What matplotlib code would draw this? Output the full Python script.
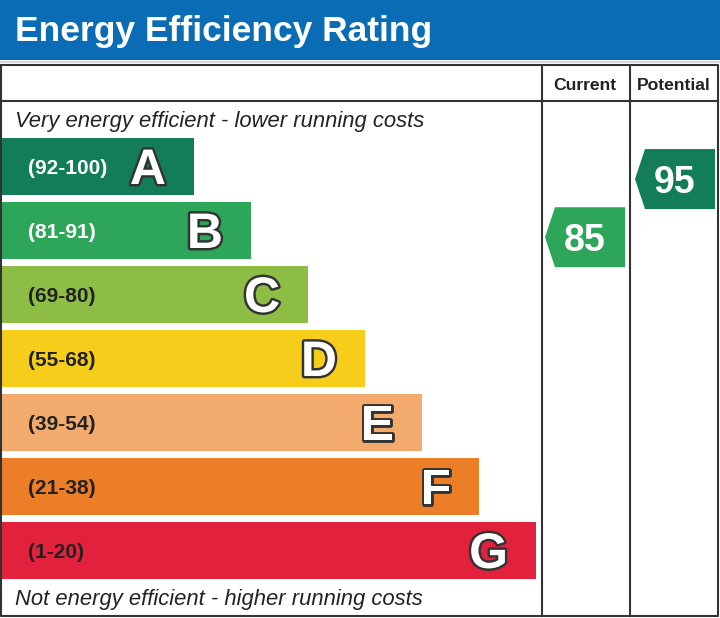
import matplotlib.pyplot as plt
import matplotlib.patheffects as pe
from matplotlib.patches import Polygon, Rectangle

plt.rcParams['font.family'] = ['Liberation Sans', 'DejaVu Sans']

# Datos de la etiqueta energética
letras = ['A', 'B', 'C', 'D', 'E', 'F', 'G']
rangos = ['(92-100)', '(81-91)', '(69-80)', '(55-68)', '(39-54)', '(21-38)', '(1-20)']
minimos = [92, 81, 69, 55, 39, 21, 1]
colores = ['#137d5a', '#2ea65a', '#8dbd44', '#f5cd1a', '#f2aa6d', '#ec7e27', '#e2213d']
color_rango = ['white', 'white', '#222222', '#222222', '#222222', '#222222', '#222222']
actual = 85
potencial = 95

fig = plt.figure(figsize=(7.2, 6.18), dpi=100)
ax = fig.add_axes([0, 0, 1, 1])
ax.set_xlim(0, 720)
ax.set_ylim(618, 0)
ax.axis('off')

# Cabecera azul
ax.add_patch(Rectangle((0, 0), 720, 60, color='#0a6cb4', lw=0))
ax.plot([0, 720], [61.5, 61.5], color='#c9d3de', lw=1.2)
ax.text(15, 41, 'Energy Efficiency Rating', color='white', fontsize=25.5,
        fontweight='bold', va='baseline', ha='left')

# Marco de la tabla
borde = dict(color='#333333', lw=1.5, solid_capstyle='projecting')
ax.plot([1, 718, 718, 1, 1], [65, 65, 616, 616, 65], **borde)
ax.plot([1, 718], [101, 101], **borde)
ax.plot([542, 542], [65, 616], **borde)
ax.plot([630, 630], [65, 616], **borde)

ax.text(585, 90, 'Current', fontsize=12.6, fontweight='bold', ha='center',
        va='baseline', color='#222222')
ax.text(674, 90, 'Potential', fontsize=12.6, fontweight='bold', ha='center',
        va='baseline', color='#222222')

ax.text(15, 127, 'Very energy efficient - lower running costs', fontsize=15.8,
        style='italic', va='baseline', color='#222222')
ax.text(15, 605, 'Not energy efficient - higher running costs', fontsize=15.8,
        style='italic', va='baseline', color='#222222')

# Barras
alto = 57
paso = 64
top0 = 138
centros = [top0 + alto / 2 + paso * i for i in range(len(letras))]
anchos = [192 + 57 * i for i in range(len(letras))]
ax.barh(centros, anchos, height=alto, left=2, color=colores, linewidth=0)

contorno = [pe.withStroke(linewidth=3.5, foreground='#333333')]
for i in range(len(letras)):
    ax.text(28, centros[i] + 8, rangos[i], fontsize=15, fontweight='bold',
            color=color_rango[i], va='baseline', ha='left')
    ax.text(2 + anchos[i] - 28, centros[i] + 17.5, letras[i], fontsize=36,
            fontweight='bold', color='white', va='baseline', ha='right',
            path_effects=contorno)


def banda(valor):
    for i, lo in enumerate(minimos):
        if valor >= lo:
            return i
    return len(minimos) - 1


def flecha(valor, x0, x1):
    i = banda(valor)
    fondo = top0 + paso * i + alto
    yc = fondo + 1.5 - (valor - minimos[i]) * paso / 11
    h = 60
    pts = [(x0 + 10, yc - h / 2), (x1, yc - h / 2), (x1, yc + h / 2),
           (x0 + 10, yc + h / 2), (x0, yc)]
    ax.add_patch(Polygon(pts, closed=True, color=colores[i], lw=0))
    ax.text((x0 + x1) / 2, yc + 13.5, str(valor), fontsize=27, fontweight='bold',
            color='white', ha='center', va='baseline')


flecha(actual, 545, 625)
flecha(potencial, 635, 715)

fig.savefig('out.png', dpi=100)
